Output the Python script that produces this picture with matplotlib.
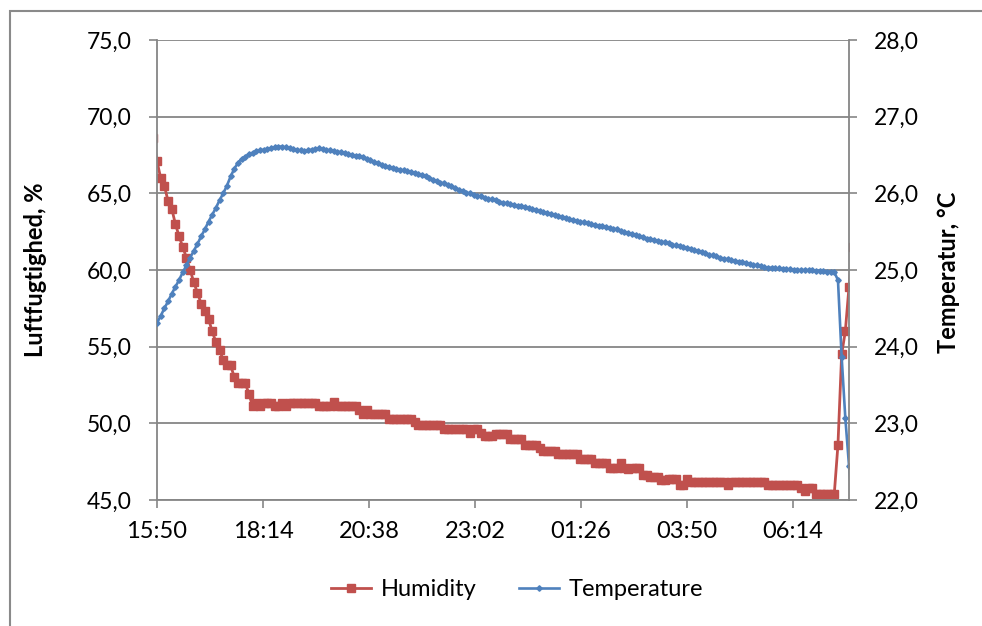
import matplotlib.pyplot as plt
import matplotlib.dates as mdates
import pandas as pd
from matplotlib.patches import Rectangle
from matplotlib.ticker import FuncFormatter

plt.rcParams['font.family'] = ['Lato', 'DejaVu Sans']

# målinger hvert 5. minut, fra 15:45 til 07:30
tider = pd.date_range('2013-06-01 15:45', periods=191, freq='5min')

luftfugtighed = [
    68.6,
    67.1, 66.0, 65.5, 64.5, 64.0, 63.0, 62.2, 61.5, 60.8, 60.0, 59.2, 58.5,
    57.8, 57.3, 56.8, 56.0, 55.3, 54.8, 54.1, 53.8, 53.8, 53.0, 52.6, 52.6,
    52.6, 51.9, 51.1, 51.3, 51.1, 51.3, 51.3, 51.3, 51.1, 51.1, 51.3, 51.1,
    51.3, 51.3, 51.3, 51.3, 51.3, 51.3, 51.3, 51.3, 51.1, 51.1, 51.1, 51.1,
    51.4, 51.1, 51.1, 51.1, 51.1, 51.1, 51.1, 50.9, 50.6, 50.9, 50.6, 50.6,
    50.6, 50.6, 50.6, 50.3, 50.3, 50.3, 50.3, 50.3, 50.3, 50.3, 50.1, 49.9,
    49.9, 49.9, 49.9, 49.9, 49.9, 49.9, 49.6, 49.6, 49.6, 49.6, 49.6, 49.6,
    49.6, 49.4, 49.6, 49.6, 49.4, 49.2, 49.2, 49.2, 49.3, 49.3, 49.3, 49.3,
    49.0, 49.0, 49.0, 49.0, 48.6, 48.6, 48.6, 48.6, 48.4, 48.2, 48.2, 48.2,
    48.2, 48.0, 48.0, 48.0, 48.0, 48.0, 48.0, 47.7, 47.7, 47.7, 47.7, 47.4,
    47.4, 47.4, 47.4, 47.1, 47.1, 47.1, 47.4, 47.1, 47.0, 47.1, 47.1, 47.1,
    46.6, 46.6, 46.5, 46.5, 46.5, 46.3, 46.3, 46.4, 46.4, 46.4, 46.0, 46.0,
    46.4, 46.2, 46.2, 46.2, 46.2, 46.2, 46.2, 46.2, 46.2, 46.2, 46.2, 46.0,
    46.2, 46.2, 46.2, 46.2, 46.2, 46.2, 46.2, 46.2, 46.2, 46.2, 46.0, 46.0,
    46.0, 46.0, 46.0, 46.0, 46.0, 46.0, 46.0, 45.8, 45.6, 45.8, 45.8, 45.4,
    45.4, 45.4, 45.4, 45.4, 45.4, 48.6, 54.5, 56.0, 58.9, 61.5,
]

temperatur = [
    24.15,
    24.31, 24.40, 24.50, 24.59, 24.69, 24.78, 24.87, 24.97, 25.06, 25.16, 25.25, 25.34,
    25.44, 25.53, 25.63, 25.72, 25.81, 25.91, 26.00, 26.10, 26.22, 26.32, 26.40, 26.45,
    26.48, 26.51, 26.53, 26.55, 26.56, 26.57, 26.58, 26.59, 26.60, 26.61, 26.61, 26.60,
    26.59, 26.58, 26.57, 26.56, 26.55, 26.56, 26.57, 26.58, 26.59, 26.58, 26.57, 26.56,
    26.55, 26.54, 26.54, 26.52, 26.51, 26.50, 26.49, 26.49, 26.47, 26.45, 26.43, 26.41,
    26.39, 26.37, 26.36, 26.34, 26.33, 26.32, 26.31, 26.30, 26.29, 26.28, 26.27, 26.25,
    26.24, 26.22, 26.20, 26.18, 26.16, 26.14, 26.13, 26.11, 26.09, 26.07, 26.05, 26.03,
    26.01, 26.00, 25.98, 25.97, 25.96, 25.94, 25.93, 25.92, 25.91, 25.89, 25.88, 25.87,
    25.86, 25.85, 25.84, 25.83, 25.82, 25.81, 25.80, 25.78, 25.77, 25.76, 25.74, 25.73,
    25.72, 25.70, 25.69, 25.68, 25.66, 25.65, 25.64, 25.63, 25.62, 25.61, 25.60, 25.59,
    25.58, 25.57, 25.56, 25.55, 25.54, 25.53, 25.51, 25.50, 25.48, 25.47, 25.46, 25.44,
    25.43, 25.41, 25.40, 25.39, 25.38, 25.37, 25.36, 25.35, 25.33, 25.32, 25.31, 25.30,
    25.29, 25.28, 25.26, 25.25, 25.23, 25.22, 25.20, 25.19, 25.18, 25.16, 25.15, 25.14,
    25.13, 25.12, 25.11, 25.10, 25.09, 25.08, 25.07, 25.06, 25.05, 25.04, 25.03, 25.03,
    25.02, 25.02, 25.01, 25.01, 25.01, 25.00, 25.00, 25.00, 25.00, 25.00, 25.00, 24.99,
    24.99, 24.99, 24.98, 24.98, 24.97, 24.87, 23.87, 23.07, 22.45, 21.85,
]

x_ticks = pd.date_range('2013-06-01 15:50', periods=7, freq='144min')
x_start = pd.Timestamp('2013-06-01 15:50')
x_slut = pd.Timestamp('2013-06-02 07:30')

groen = '#868686'
roed = '#C0504D'
blaa = '#4F81BD'

fig = plt.figure(figsize=(9.82, 6.26), dpi=100)
ax1 = fig.add_axes([157 / 982, 1 - 500 / 626, (849 - 157) / 982, 460 / 626])
ax2 = ax1.twinx()

# ramme om diagrammet
fig.patches.append(Rectangle((10 / 982, -0.1), 1.2, 0.1 + 1 - 11 / 626,
                             transform=fig.transFigure, fill=False,
                             edgecolor='#8a8a8a', lw=1.5))

l1, = ax1.plot(tider, luftfugtighed, color=roed, lw=2.0, marker='s', ms=5.2,
               label='Humidity')
l2, = ax2.plot(tider, temperatur, color=blaa, lw=1.9, marker='D', ms=2.8,
               label='Temperature')

ax1.set_xlim(x_start, x_slut)
ax1.set_ylim(45, 75)
ax2.set_ylim(22, 28)
ax1.set_yticks([45, 50, 55, 60, 65, 70, 75])
ax2.set_yticks([22, 23, 24, 25, 26, 27, 28])
ax1.set_xticks(x_ticks)
ax1.xaxis.set_major_formatter(mdates.DateFormatter('%H:%M'))
komma = FuncFormatter(lambda v, p: ('%.1f' % v).replace('.', ','))
ax1.yaxis.set_major_formatter(komma)
ax2.yaxis.set_major_formatter(komma)

ax1.yaxis.grid(True, color=groen, lw=1.3)
ax1.set_axisbelow(True)

for ax in (ax1, ax2):
    for s in ax.spines.values():
        s.set_visible(False)
    ax.tick_params(direction='out', length=6, width=1.2, color=groen,
                   labelsize=16.5, pad=12)
ax1.spines['left'].set_visible(True)
ax1.spines['bottom'].set_visible(True)
ax2.spines['right'].set_visible(True)
for s in (ax1.spines['left'], ax1.spines['bottom'], ax2.spines['right']):
    s.set_color(groen)
    s.set_linewidth(1.3)
ax1.tick_params(axis='x', pad=9, labelsize=17)

fig.text(36 / 982, 1 - 270 / 626, 'Luftfugtighed, %', rotation=90,
         fontsize=17, fontweight='bold', ha='center', va='center')
fig.text(949 / 982, 1 - 272 / 626, 'Temperatur, °C', rotation=90,
         fontsize=17, fontweight='bold', ha='center', va='center')

fig.legend([l1, l2], ['Humidity', 'Temperature'], loc='center',
           bbox_to_anchor=(517 / 982, 1 - 590 / 626), ncol=2, frameon=False,
           fontsize=17, handlelength=1.7, columnspacing=1.8, handletextpad=0.4)

fig.savefig('out.png', dpi=100)
